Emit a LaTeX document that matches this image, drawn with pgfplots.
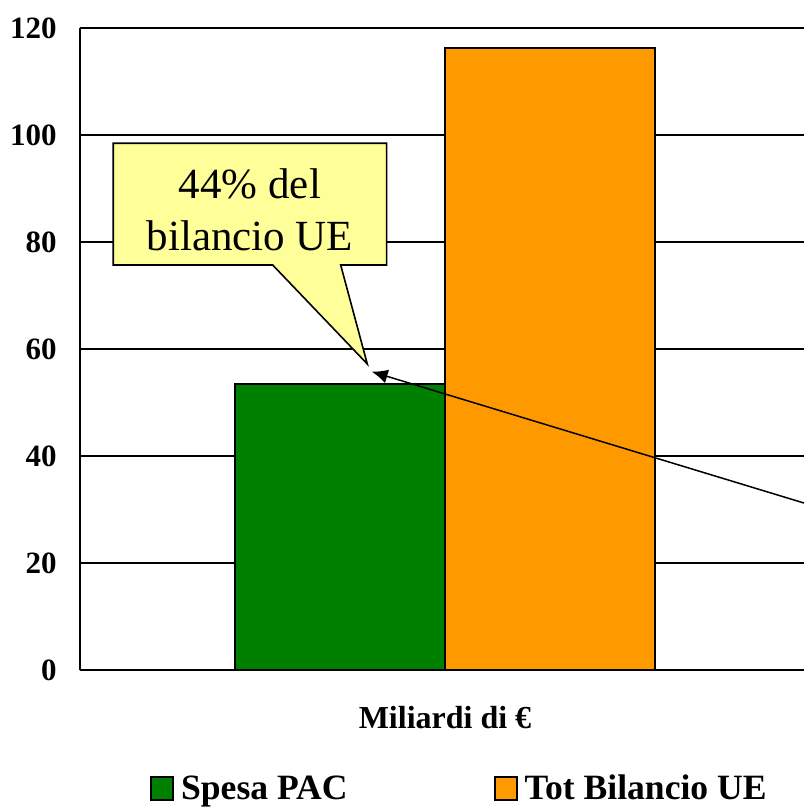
\documentclass[border=0pt]{standalone}
\usepackage{fontspec}
\setmainfont{Liberation Serif}
\usepackage{pgfplots}
\pgfplotsset{compat=1.18}
\usetikzlibrary{arrows.meta}
\definecolor{pacgreen}{HTML}{008000}
\definecolor{ueorange}{HTML}{FF9900}
\definecolor{callout}{HTML}{FFFF99}
\begin{document}
\begin{tikzpicture}
\useasboundingbox (-40pt,-69pt) rectangle (362pt,335pt);
\begin{axis}[
  at={(0,0)}, anchor=south west,
  scale only axis, width=362pt, height=321pt,
  xmin=-1.738, xmax=1.7095, ymin=0, ymax=120,
  axis x line*=bottom, axis y line*=left,
  axis line style={line width=1pt},
  ytick={0,20,...,120},
  xtick={0}, xticklabels={Miliardi di €},
  major tick length=0pt,
  ymajorgrids, grid style={black, line width=0.9pt},
  /pgf/number format/assume math mode=true,
  yticklabel style={font=\fontsize{15.5}{18}\selectfont\bfseries, anchor=east, inner sep=0pt, xshift=-11.5pt},
  xticklabel style={font=\fontsize{16}{19}\selectfont\bfseries, anchor=base, inner sep=0pt, yshift=-29pt},
  ybar, bar width=1,
  legend image code/.code={\draw[#1, line width=1pt] (0pt,-5.75pt) rectangle (11pt,5.75pt);},
  legend columns=2,
  legend style={at={(0.524,-0.185)}, anchor=center, draw=none, fill=none,
    font=\fontsize{17.8}{21}\selectfont\bfseries,
    /tikz/every even column/.style={column sep=72pt},
    /tikz/every odd column/.style={column sep=2.5pt},
    nodes={inner sep=1pt}},
]
\addplot[fill=pacgreen, draw=black, line width=0.9pt, bar shift=0pt] coordinates {(-0.5,53.5)};
\addplot[fill=ueorange, draw=black, line width=0.9pt, bar shift=0pt] coordinates {(0.5,116.3)};
\legend{Spesa PAC, Tot Bilancio UE}
\draw[fill=callout, line width=0.8pt] (axis cs:-1.5795,98.45) -- (axis cs:-0.2776,98.45) -- (axis cs:-0.2776,75.70) -- (axis cs:-0.4967,75.70) -- (axis cs:-0.370,57.20) -- (axis cs:-0.8205,75.70) -- (axis cs:-1.5795,75.70) -- cycle;
\node[align=center, inner sep=0pt, font=\fontsize{21.5}{26}\selectfont] at (axis cs:-0.9286,86.0) {44\% del\\bilancio UE};
\draw[line width=0.75pt, -{Latex[length=8pt,width=7pt]}] (axis cs:1.7095,31.21) -- (axis cs:-0.349,55.76);
\draw[line width=1pt] (rel axis cs:0,0) -- ++(0pt,-5pt);
\end{axis}
\end{tikzpicture}
\end{document}
